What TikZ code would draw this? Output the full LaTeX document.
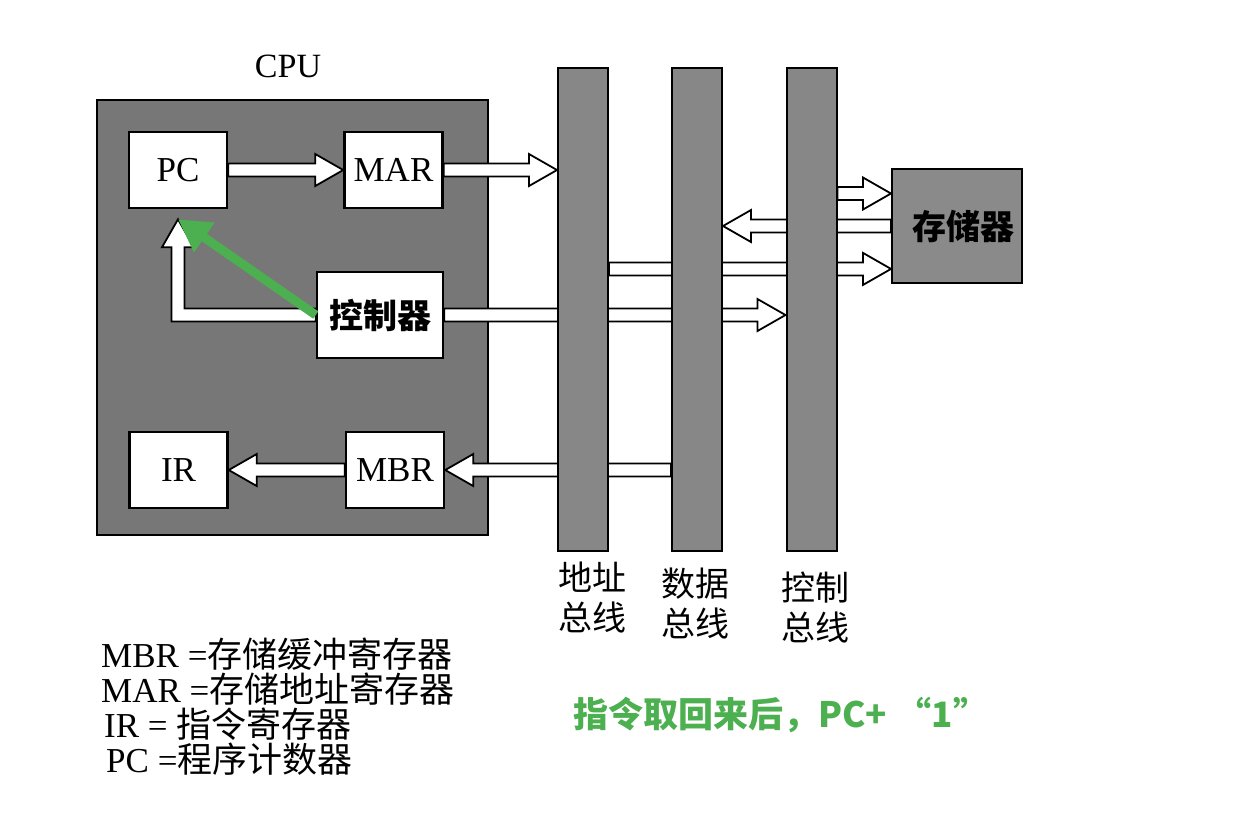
\documentclass[tikz,border=0pt]{standalone}
\usepackage{fontspec}
\setmainfont{Liberation Serif}
\newfontfamily\cjk{Noto Sans CJK SC}
\usetikzlibrary{calc,backgrounds,arrows.meta}

\begin{document}
\begin{tikzpicture}[x=1pt, y=-1pt,
    reg/.style={draw=black, fill=white, line width=2.5pt, minimum width=98pt, minimum height=76pt, inner sep=0pt, font=\fontsize{35}{35}\selectfont},
    bus/.style={draw=black, fill=busColour, line width=2pt, minimum width=50pt, minimum height=483pt, inner sep=0pt},
    buslabel/.style={anchor=north, align=center, inner sep=0pt, font=\cjk\fontsize{34}{40}\selectfont},
    fatline/.style={draw=black, fill=white, line width=1.8pt, line join=miter},
    pcplus/.style={draw=greenColour, line width=9pt, -{Triangle[length=32pt,width=34pt]}}]
    \def\shaftW{6.5}
    \def\headW{16}
    \def\headL{28}

    \definecolor{cpuColour}{HTML}{777777}
    \definecolor{busColour}{HTML}{878787}
    \definecolor{memColour}{HTML}{8A8A8A}
    \definecolor{greenColour}{HTML}{4CAF50}

    % Page and CPU box
    \begin{scope}[on background layer]
        \fill[white] (0,0) rectangle (1234,828);
        \node[draw=black, fill=cpuColour, line width=2.5pt, minimum width=391pt, minimum height=435pt] (cpu) at (292.5,317.5) {};
    \end{scope}
    \useasboundingbox (0,0) rectangle (1234,828);
    \node[font=\fontsize{34}{34}\selectfont] (cpulbl) at (288,66) {CPU};

    % Registers and controller
    \node[reg] (pc) at (178,170) {PC};
    \node[reg] (mar) at (393.5,170) {MAR};
    \node[reg, minimum width=126pt, minimum height=86pt, font=\cjk\bfseries\fontsize{34}{34}\selectfont] (ctrl) at (380,315) {控制器};
    \node[reg] (ir) at (178.5,470) {IR};
    \node[reg] (mbr) at (395,470) {MBR};

    % Buses
    \foreach \name/\x/\txt/\dx/\dy in {abus/583/地址/9/10, dbus/697/数据/-2/16, cbus/811.5/控制/4/20} {
        \node[bus] (\name) at (\x,309.5) {};
        \node[buslabel] (\name-lbl) at ($(\name.south)+(\dx,\dy)$) {\txt\\总线};
    }

    % Memory
    \node[draw=black, fill=memColour, line width=2pt, minimum width=130pt, minimum height=114pt, font=\cjk\bfseries\fontsize{34}{34}\selectfont] (mem) at (957,226) {\hspace{12pt}存储器};

    % Arrow ends on the buses and memory
    \coordinate (a1) at (mar.east -| abus.west);
    \coordinate (a2) at (ctrl.east -| cbus.west);
    \coordinate (a3) at (mbr.east -| dbus.west);
    \coordinate (a4) at (mem.west -| dbus.east);
    \coordinate (m1) at ($(mem.north west)!0.22!(mem.south west)$);
    \coordinate (m2) at ($(mem.north west)!0.87!(mem.south west)$);
    \coordinate (c1) at (m1 -| cbus.east);
    \coordinate (c2) at (m2 -| abus.east);
    \coordinate (bend) at (pc.south |- ctrl.west);
    \coordinate (pcin) at ($(pc.south)+(0,10)$);

    % Hollow arrows, under the buses
    \begin{scope}[on background layer]
        \foreach \s/\t in {pc.east/mar.west, mar.east/a1, ctrl.east/a2, mbr.west/ir.east, a3/mbr.east, mem.west/a4, c1/m1, c2/m2} {
            \coordinate (base) at ($(\t)!\headL pt!(\s)$);
            \filldraw[fatline] ($(\s)!\shaftW pt!90:(\t)$) -- ($(base)!\shaftW pt!90:(\t)$)
                -- ($(base)!\headW pt!90:(\t)$) -- (\t) -- ($(base)!\headW pt!-90:(\t)$)
                -- ($(base)!\shaftW pt!-90:(\t)$) -- ($(\s)!\shaftW pt!-90:(\t)$) -- cycle;
        }
        % controller back to PC
        \filldraw[fatline] ($(ctrl.west)+(0,-\shaftW)$) -- ($(bend)+(\shaftW,-\shaftW)$)
            -- ($(pcin)+(\shaftW,\headL)$) -- ($(pcin)+(\headW,\headL)$) -- (pcin)
            -- ($(pcin)+(-\headW,\headL)$) -- ($(pcin)+(-\shaftW,\headL)$)
            -- ($(bend)+(-\shaftW,\shaftW)$) -- ($(ctrl.west)+(0,\shaftW)$) -- cycle;
    \end{scope}

    % PC + 1
    \draw[pcplus] (ctrl.west) -- (pcin);
    \node[font=\cjk\bfseries\fontsize{35}{35}\selectfont, text=greenColour, anchor=west, inner sep=0pt] (note) at (573,715) {指令取回来后，PC+\hspace{10pt}“1”};

    % Legend
    \node[anchor=north west, align=left, inner sep=0pt, font=\fontsize{35}{35}\selectfont] (legend) at (101,638) {MBR ={\cjk 存储缓冲寄存器}\\MAR ={\cjk 存储地址寄存器}\\\hspace{3pt}IR = {\cjk 指令寄存器}\\\hspace{5pt}PC ={\cjk 程序计数器}};

\end{tikzpicture}
\end{document}
